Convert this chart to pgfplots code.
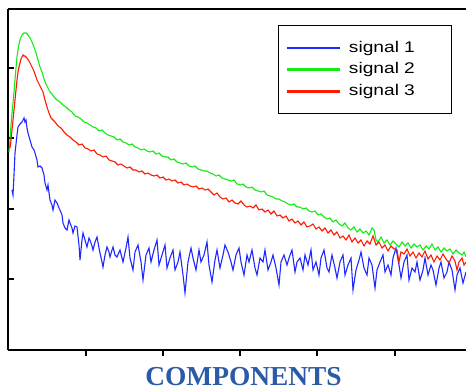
\documentclass[border=0pt]{standalone}
\usepackage{pgfplots}
\pgfplotsset{compat=1.18}
\usepackage{fontspec}
\setmainfont{Liberation Serif}
\newfontfamily\legendfont[FakeStretch=1.24]{Liberation Sans}
\definecolor{sigblue}{RGB}{30,40,255}
\definecolor{siggreen}{RGB}{20,235,20}
\definecolor{sigred}{RGB}{255,25,0}
\definecolor{titleblue}{RGB}{43,91,166}
\begin{document}
\begin{tikzpicture}
\begin{axis}[
  scale only axis, width=458bp, height=341bp,
  at={(0,0)}, anchor=south west,
  xmin=8, xmax=466, ymin=-350, ymax=-9,
  axis lines=left, axis line style={-, line width=1.3bp, black},
  xtick={86,163,240,317,395}, ytick={-279,-209,-138,-68},
  xticklabels={}, yticklabels={},
  xtick align=outside, ytick align=inside, major tick length=6bp,
  tick style={line width=1.1bp, black},
  clip=true,
  legend style={at={(0.5895,0.953)}, anchor=north west, draw=black, line width=1bp,
    inner xsep=7bp, inner ysep=11.8bp, row sep=0bp, column sep=5bp,
    font=\legendfont\fontsize{15.5}{18}\selectfont,
    nodes={text height=11.5bp, text depth=3.5bp, inner ysep=3.3bp, inner xsep=3bp, text width=93bp, align=left}},
  legend cell align=left,
  legend image code/.code={\draw[#1, line width=2.5bp] (0bp,0bp) -- (53bp,0bp);},
]
\addplot[sigblue, line width=1.1bp] coordinates {
(12,-190)(13,-195)(14,-175)(15,-153)(17,-135)(18,-127)(20,-124)(22,-122)(24,-118)(25,-122)(26,-120)(27,-128)(28,-133)(30,-140)(32,-147)(34,-150)(35,-153)(37,-160)(38,-167)(40,-166)(42,-168)(44,-175)(45,-183)(47,-190)(48,-185)(50,-200)(52,-205)(53,-210)(55,-200)(57,-203)(59,-208)(60,-210)(62,-215)(63,-223)(65,-228)(67,-230)(69,-220)(70,-223)(72,-228)(73,-233)(75,-226)(77,-227)(79,-245)(80,-260)(82,-240)(83,-233)(85,-240)(87,-247)(89,-238)(90,-240)(92,-246)(93,-250)(95,-242)(97,-237)(99,-248)(100,-253)(102,-262)(103,-267)(105,-255)(107,-247)(109,-252)(110,-257)(112,-250)(113,-247)(115,-255)(117,-257)
(120,-250)(123,-262)(126,-248)(128,-237)(130,-258)(133,-270)(135,-252)(138,-245)(141,-262)(143,-280)(146,-255)(149,-248)(151,-262)(154,-250)(157,-240)(159,-265)(162,-255)(165,-245)(167,-268)(170,-258)(173,-250)(175,-270)(178,-262)(180,-252)(183,-275)(185,-293)(188,-262)(191,-248)(193,-258)(196,-270)(199,-250)(201,-262)(204,-255)(207,-242)(209,-265)(212,-282)(215,-260)(217,-250)(220,-268)(223,-255)(225,-245)(228,-252)(231,-262)(233,-270)(236,-255)(239,-248)(241,-262)(244,-275)(247,-255)(249,-262)(252,-250)(255,-268)(257,-275)(260,-258)(263,-262)(265,-250)(268,-270)(271,-262)(273,-255)(276,-268)(279,-285)(281,-262)(284,-255)(287,-265)(289,-258)(292,-250)(295,-272)(297,-262)(300,-258)(303,-270)(305,-255)(308,-265)(311,-250)(313,-270)(316,-262)(319,-275)(321,-258)(324,-250)(327,-268)(329,-272)(332,-255)(335,-268)(337,-278)(340,-262)(343,-255)(345,-275)(348,-265)(351,-258)(353,-290)(356,-270)(359,-260)(361,-252)(364,-268)(367,-275)(369,-258)(372,-265)(375,-288)(377,-270)(380,-262)(383,-255)(385,-272)(388,-265)(391,-275)(393,-258)(396,-248)(399,-265)(401,-278)(404,-262)(407,-255)(409,-280)(412,-268)(415,-272)(417,-262)(420,-280)(423,-270)(425,-258)(428,-275)(431,-265)(433,-270)(436,-285)(439,-268)(441,-262)(444,-278)(447,-272)(449,-262)(452,-270)(455,-290)(457,-275)(460,-268)(463,-283)(466,-272)
};
\addlegendentry{signal 1}
\addplot[siggreen, line width=1.1bp] coordinates {
(9,-152)(10,-140)(11,-125)(12,-113)(13,-103)(14,-92)(15,-80)(16,-68)(17,-57)(18,-50)(19,-44)(20,-40)(21,-37)(22,-35)(24,-33)(25,-33)(26,-33)(28,-35)(30,-38)(32,-42)(34,-47)(36,-53)(38,-60)(40,-67)(42,-72)(44,-79)(46,-84)(48,-88)(50,-92)(52,-94)(54,-97)(57,-100)(60,-102)(63,-105)(66,-107)(69,-110)(72,-112)(75,-116)(78,-117)(81,-119)(84,-122)(87,-123)(90,-125)(93,-127)(96,-128)(99,-131)(102,-130)(105,-133)(108,-135)(111,-136)(114,-137)(117,-140)(120,-139)(123,-142)(126,-143)(129,-145)(132,-144)(135,-147)(138,-148)(141,-150)(144,-149)(147,-151)(150,-152)(153,-151)(156,-154)(159,-153)(162,-156)(165,-157)(168,-157)(171,-160)(174,-159)(177,-162)(180,-163)(183,-164)(186,-163)(189,-166)(192,-167)(195,-166)(198,-169)(201,-170)(204,-171)(207,-171)(210,-173)(213,-174)(216,-176)(219,-175)(222,-178)(225,-179)(228,-180)(231,-181)(234,-180)(237,-184)(240,-185)(243,-184)(246,-187)(249,-188)(252,-187)(255,-190)(258,-191)(261,-192)(264,-191)(267,-195)(270,-196)(273,-197)(276,-199)(279,-199)(282,-201)(285,-202)(288,-204)(291,-205)(294,-204)(297,-207)(300,-207)(303,-209)(306,-208)(309,-211)(312,-212)(315,-211)(318,-215)(321,-214)(324,-217)(327,-219)(330,-218)(333,-222)(336,-220)(339,-224)(342,-226)(345,-223)(348,-228)(351,-230)(354,-227)(357,-232)(360,-229)(363,-233)(366,-231)(369,-235)(372,-228)(374,-230)(376,-240)(378,-242)(381,-237)(384,-243)(387,-240)(390,-245)(393,-241)(396,-244)(399,-247)(402,-242)(405,-246)(408,-243)(411,-248)(414,-244)(417,-247)(420,-245)(423,-250)(426,-246)(429,-249)(432,-244)(435,-250)(438,-247)(441,-252)(444,-248)(447,-251)(450,-249)(453,-254)(456,-250)(459,-253)(462,-255)(464,-252)(466,-257)
};
\addlegendentry{signal 2}
\addplot[sigred, line width=1.1bp] coordinates {
(10,-148)(11,-140)(12,-130)(13,-120)(14,-110)(15,-100)(16,-90)(17,-80)(18,-72)(19,-67)(20,-63)(21,-59)(22,-57)(23,-55)(24,-56)(25,-56)(27,-58)(29,-61)(31,-65)(33,-69)(35,-74)(37,-80)(39,-84)(41,-88)(43,-92)(45,-100)(47,-107)(49,-113)(51,-118)(53,-120)(55,-122)(58,-126)(61,-128)(64,-132)(67,-135)(70,-137)(73,-140)(76,-142)(79,-145)(82,-144)(85,-148)(88,-149)(91,-151)(94,-150)(97,-154)(100,-155)(103,-157)(106,-156)(109,-160)(112,-161)(115,-162)(118,-165)(121,-164)(124,-166)(127,-168)(130,-167)(133,-170)(136,-170)(139,-172)(142,-171)(145,-174)(148,-173)(151,-175)(154,-176)(157,-175)(160,-178)(163,-177)(166,-180)(169,-179)(172,-181)(175,-180)(178,-183)(181,-182)(184,-185)(187,-184)(190,-186)(193,-187)(196,-186)(199,-189)(202,-188)(205,-190)(208,-189)(211,-192)(214,-195)(217,-193)(220,-197)(223,-199)(226,-198)(229,-202)(232,-200)(235,-203)(238,-204)(241,-201)(244,-205)(247,-207)(250,-206)(253,-208)(256,-205)(259,-210)(262,-209)(265,-212)(268,-210)(271,-214)(274,-211)(277,-216)(280,-215)(283,-218)(286,-216)(289,-221)(292,-219)(295,-223)(298,-221)(301,-225)(304,-222)(307,-227)(310,-226)(313,-224)(316,-229)(319,-227)(322,-231)(325,-228)(328,-233)(331,-230)(334,-235)(337,-232)(340,-238)(343,-236)(346,-240)(349,-235)(352,-242)(355,-238)(358,-243)(361,-240)(364,-246)(367,-241)(370,-244)(373,-236)(376,-245)(379,-242)(382,-248)(385,-245)(388,-251)(391,-246)(394,-249)(397,-250)(399,-262)(401,-252)(404,-254)(407,-249)(410,-256)(413,-252)(416,-258)(419,-253)(422,-257)(425,-251)(428,-259)(431,-255)(434,-262)(437,-256)(440,-260)(443,-254)(446,-259)(449,-263)(452,-256)(455,-261)(457,-270)(459,-262)(462,-258)(464,-265)(466,-262)
};
\addlegendentry{signal 3}
\draw[line width=1.3bp, black] (rel axis cs:0,1) -- (rel axis cs:1,1);
\end{axis}
\node[anchor=base, inner sep=0pt, text=titleblue, font=\fontsize{27.5}{30}\selectfont\bfseries] at (235.5bp,-35bp) {COMPONENTS};
\pgfresetboundingbox
\path[use as bounding box] (-8bp,-41bp) rectangle (458bp,350bp);
\end{tikzpicture}
\end{document}
